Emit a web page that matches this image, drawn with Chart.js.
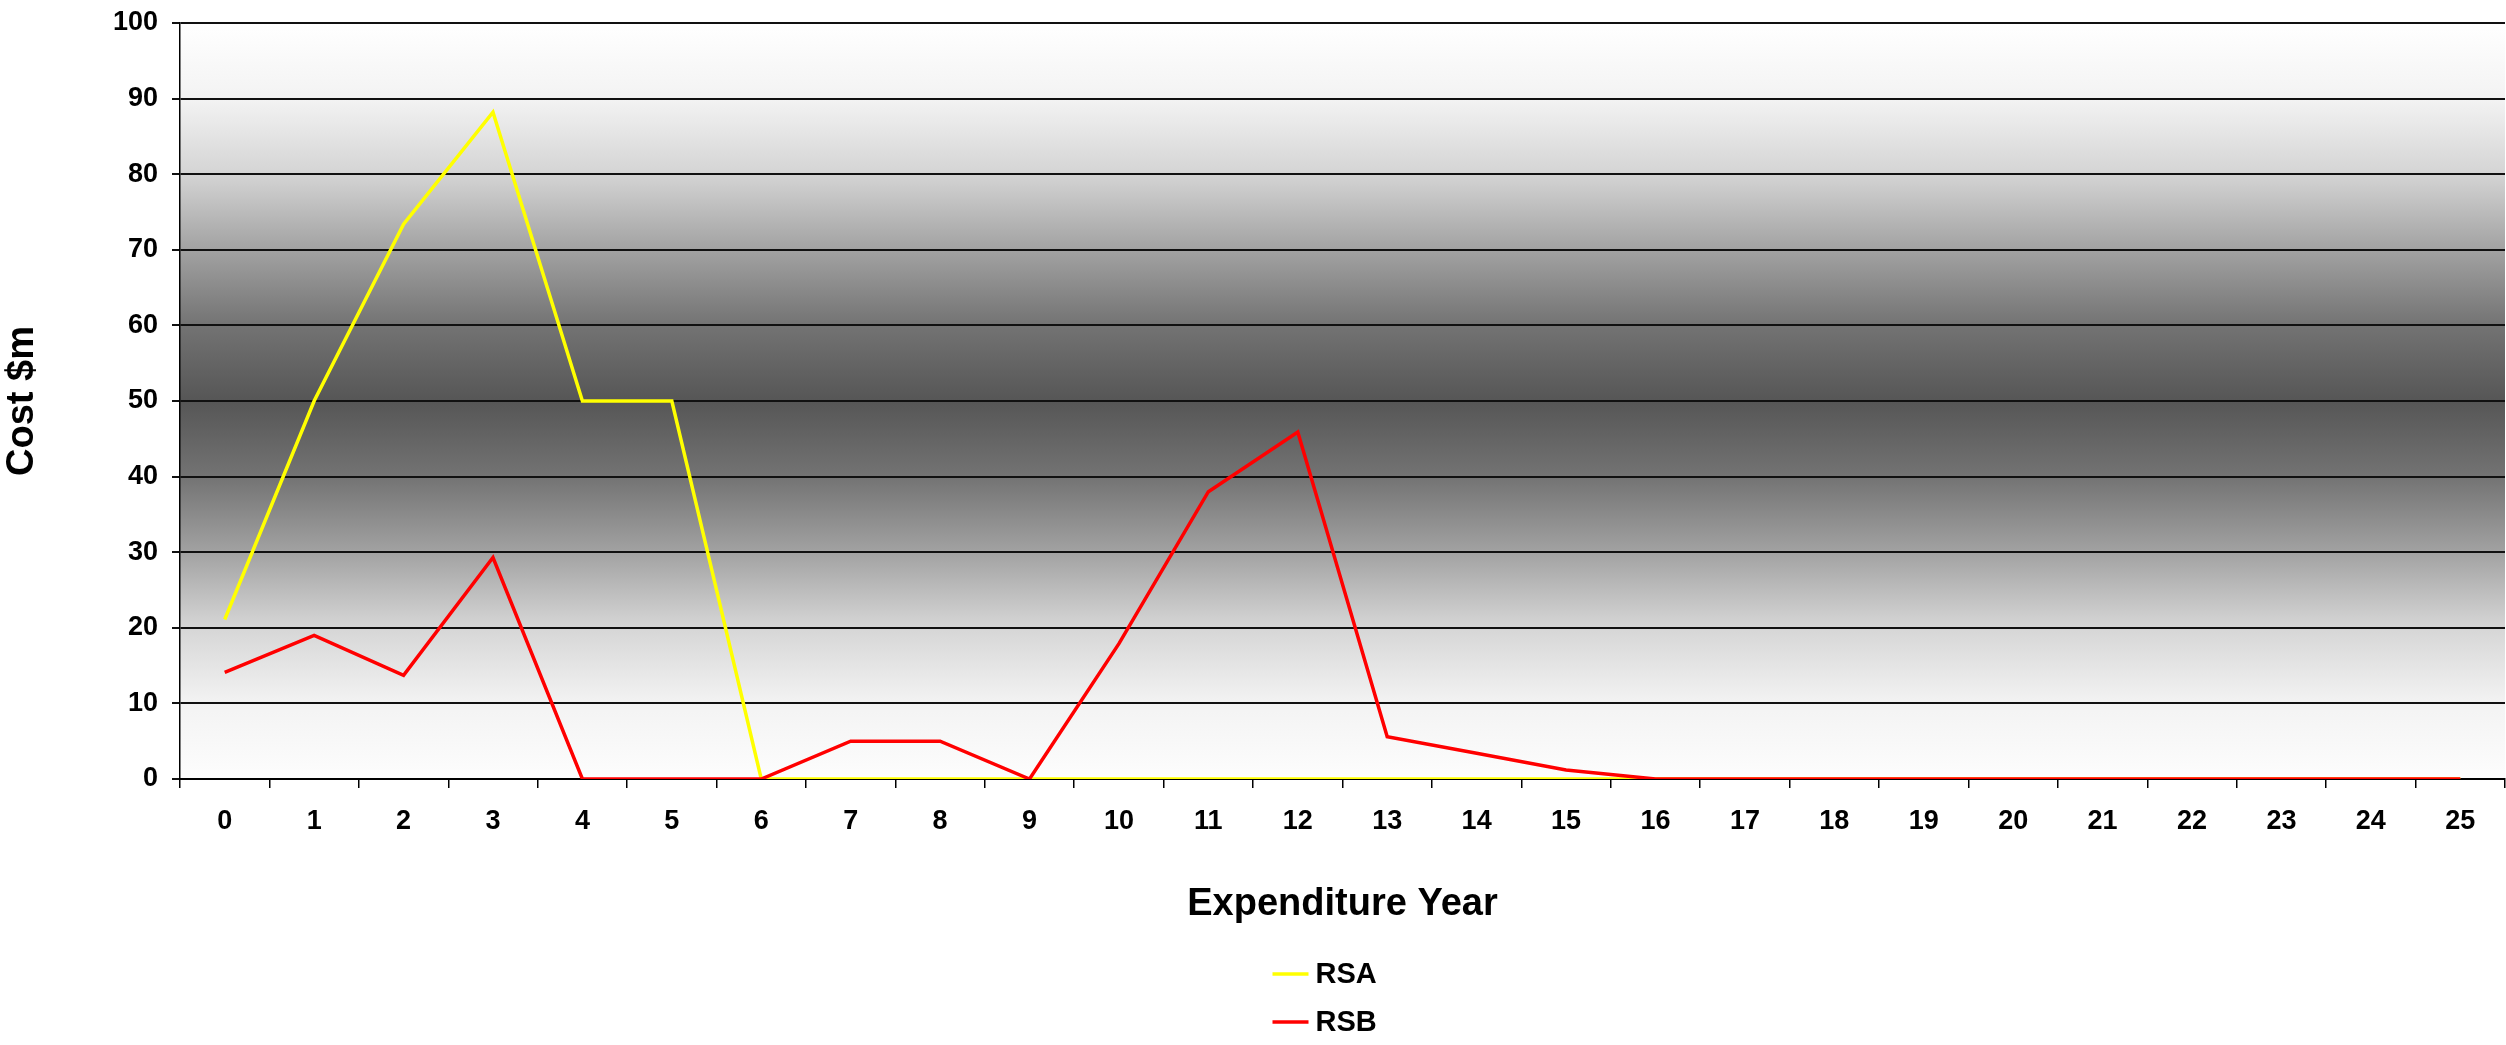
<!DOCTYPE html>
<html>
<head>
<meta charset="utf-8">
<title>Expenditure Year</title>
<script src="https://cdn.jsdelivr.net/npm/chart.js@4.4.1/dist/chart.umd.min.js"></script>
<style>
    html, body { margin: 0; padding: 0; background: #ffffff; }
    #wrap { position: relative; width: 2506px; height: 1045px; }
</style>
</head>
<body>
<div id="wrap"><canvas id="chart"></canvas></div>
<script>
const years = ['0', '1', '2', '3', '4', '5', '6', '7', '8', '9', '10', '11', '12',
    '13', '14', '15', '16', '17', '18', '19', '20', '21', '22', '23', '24', '25'];
const rsa = [21.1, 50, 73.4, 88.2, 50, 50, 0, 0, 0, 0, 0, 0, 0,
    0, 0, 0, 0, 0, 0, 0, 0, 0, 0, 0, 0, 0];
const rsb = [14.1, 19.0, 13.7, 29.3, 0, 0, 0, 5, 5, 0, 17.9, 38.0, 45.9,
    5.6, 3.4, 1.2, 0, 0, 0, 0, 0, 0, 0, 0, 0, 0];

const FONT = '"Liberation Sans", Arial, sans-serif';

// grey band behind the plot: light at top and bottom, dark in the middle
const plotBackground = {
    id: 'plotBackground',
    beforeDraw(chart) {
        const { ctx, chartArea: a } = chart;
        const g = ctx.createLinearGradient(0, a.top, 0, a.bottom);
        g.addColorStop(0, '#ffffff');
        g.addColorStop(0.1, '#f3f3f3');
        g.addColorStop(0.2, '#d4d4d4');
        g.addColorStop(0.3, '#a2a2a2');
        g.addColorStop(0.4, '#737373');
        g.addColorStop(0.5, '#565656');
        g.addColorStop(0.6, '#737373');
        g.addColorStop(0.7, '#a2a2a2');
        g.addColorStop(0.8, '#d6d6d6');
        g.addColorStop(0.9, '#f3f3f3');
        g.addColorStop(1, '#fdfdfd');
        ctx.save();
        ctx.fillStyle = g;
        ctx.fillRect(a.left, a.top, a.right - a.left, a.bottom - a.top);
        ctx.restore();
    }
};

// legend stacked one item per row under the axis title
const stackedLegend = {
    id: 'stackedLegend',
    afterDraw(chart) {
        const { ctx, chartArea: a } = chart;
        const cx = (a.left + a.right) / 2;
        ctx.save();
        ctx.font = 'bold 29px ' + FONT;
        ctx.textBaseline = 'middle';
        ctx.textAlign = 'left';
        chart.data.datasets.forEach((ds, i) => {
            const y = 974 + i * 48;
            ctx.strokeStyle = ds.borderColor;
            ctx.lineWidth = 3.5;
            ctx.beginPath();
            ctx.moveTo(cx - 70, y);
            ctx.lineTo(cx - 34, y);
            ctx.stroke();
            ctx.fillStyle = '#000000';
            ctx.fillText(ds.label, cx - 27, y + 1);
        });
        ctx.restore();
    }
};

new Chart(document.getElementById('chart'), {
    type: 'line',
    data: {
        labels: years,
        datasets: [{
            label: 'RSA',
            data: rsa,
            borderColor: '#ffff00',
            backgroundColor: '#ffff00',
            borderWidth: 3.5,
            pointRadius: 0,
            tension: 0,
            order: 1
        }, {
            label: 'RSB',
            data: rsb,
            borderColor: '#ff0000',
            backgroundColor: '#ff0000',
            borderWidth: 3.5,
            pointRadius: 0,
            tension: 0,
            order: 0
        }]
    },
    options: {
        responsive: true,
        maintainAspectRatio: false,
        animation: false,
        layout: { padding: { top: 23, right: 1, bottom: 110, left: 0 } },
        plugins: {
            legend: { display: false },
            tooltip: { enabled: false }
        },
        scales: {
            x: {
                offset: true,
                grid: {
                    offset: true,
                    drawOnChartArea: false,
                    drawTicks: true,
                    tickLength: 9,
                    color: '#000000',
                    lineWidth: 1.5
                },
                border: { display: true, color: '#000000', width: 2 },
                ticks: {
                    color: '#000000',
                    font: { family: FONT, size: 27, weight: 'bold' },
                    padding: 17,
                    maxRotation: 0,
                    autoSkip: false
                },
                title: {
                    display: true,
                    text: 'Expenditure Year',
                    color: '#000000',
                    font: { family: FONT, size: 38, weight: 'bold' },
                    padding: { top: 0, bottom: 8 }
                },
                afterFit(scale) { scale.height = 156; }
            },
            y: {
                min: 0,
                max: 100,
                ticks: {
                    stepSize: 10,
                    color: '#000000',
                    font: { family: FONT, size: 27, weight: 'bold' },
                    padding: 14
                },
                grid: {
                    color: '#111111',
                    lineWidth: 2,
                    tickLength: 8
                },
                border: { display: true, color: '#000000', width: 1.5 },
                title: {
                    display: true,
                    text: 'Cost $m',
                    color: '#000000',
                    font: { family: FONT, size: 38, weight: 'bold' },
                    padding: { top: 0, bottom: 0 }
                },
                afterFit(scale) {
                    scale.width = 180;
                    scale.paddingTop = 0;
                    scale.paddingBottom = 0;
                }
            }
        }
    },
    plugins: [plotBackground, stackedLegend]
});
</script>
</body>
</html>
